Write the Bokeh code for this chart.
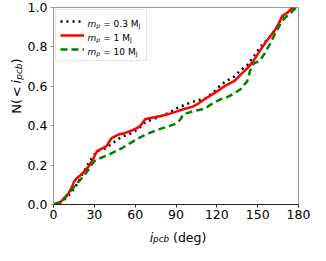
from bokeh.plotting import figure
from bokeh.layouts import column, row
from bokeh.models import Range1d, Label, Legend, LegendItem, PrintfTickFormatter, FixedTicker
from bokeh.core.properties import value
from bokeh.embed import file_html
from bokeh.resources import INLINE

# ---- data ----
deg_03 = [0, 4, 8, 11, 13.4, 17, 20.4, 25.1, 28.6, 32.1, 36.8, 40, 43.8, 47, 50.8, 57.9, 62.6,
          67.3, 72, 79, 85, 90.7, 96, 102.4, 107, 111.8, 118.8, 123.5, 128, 132.9, 137, 142.3,
          147, 151.6, 156, 160, 164, 168, 172, 175, 178]
cdf_03 = [0, 0.005, 0.025, 0.045, 0.063, 0.10, 0.143, 0.20, 0.24, 0.272, 0.28, 0.295, 0.312,
          0.33, 0.345, 0.364, 0.385, 0.417, 0.43, 0.449, 0.465, 0.489, 0.505, 0.522, 0.53,
          0.538, 0.578, 0.611, 0.63, 0.65, 0.68, 0.707, 0.75, 0.795, 0.83, 0.86, 0.90, 0.95,
          0.975, 0.99, 1.0]

deg_1 = [0, 4, 8, 11, 13.4, 15, 16.9, 20, 22.7, 26, 28.6, 30.5, 32.1, 36, 39.1, 41, 42.7, 48.5,
         52, 56.7, 62.6, 65, 67.3, 72, 79, 85, 90.7, 96, 102.4, 107, 111.8, 118.8, 125.9, 132.9,
         137, 142.3, 147, 151.6, 156.3, 160, 163.4, 166, 168, 172, 175, 177.5]
cdf_1 = [0, 0.008, 0.03, 0.055, 0.087, 0.115, 0.132, 0.15, 0.168, 0.195, 0.224, 0.25, 0.272,
         0.285, 0.296, 0.32, 0.337, 0.357, 0.362, 0.373, 0.393, 0.41, 0.433, 0.44, 0.449, 0.46,
         0.473, 0.485, 0.497, 0.515, 0.538, 0.568, 0.602, 0.626, 0.655, 0.691, 0.73, 0.78,
         0.827, 0.86, 0.892, 0.925, 0.957, 0.975, 0.995, 1.0]

deg_10 = [0, 4, 8.7, 12, 15.7, 19, 22.7, 26, 28.6, 30.5, 32.1, 36, 41.5, 46, 50.8, 56, 62.6,
          67.3, 72, 79, 85, 90.7, 93, 95.4, 102.4, 107, 111.8, 115, 118.8, 123, 128, 133, 137.6,
          142.3, 144.5, 147, 151.6, 155, 158.7, 163.4, 168, 172.8, 176, 178.6]
cdf_10 = [0, 0.01, 0.039, 0.065, 0.095, 0.12, 0.148, 0.18, 0.208, 0.222, 0.229, 0.24, 0.256,
          0.272, 0.288, 0.31, 0.337, 0.353, 0.367, 0.385, 0.398, 0.412, 0.43, 0.457, 0.473,
          0.48, 0.489, 0.505, 0.52, 0.535, 0.546, 0.565, 0.586, 0.626, 0.68, 0.715, 0.731,
          0.765, 0.81, 0.876, 0.932, 0.965, 0.985, 1.0]

x_ticks = [0, 30, 60, 90, 120, 150, 180]
y_ticks = [0.0, 0.2, 0.4, 0.6, 0.8, 1.0]
mass_labels = ["0.3", "1", "10"]

FONT = "DejaVu Sans"
TOTAL_W, TOTAL_H = 310, 245
YLAB_W = 24
MAIN_H = 224
B_LEFT, B_RIGHT, B_TOP, B_BOTTOM = 27, 12, 7, 20
FRAME_H = MAIN_H - B_TOP - B_BOTTOM

p = figure(width=TOTAL_W - YLAB_W, height=MAIN_H, output_backend="svg", toolbar_location=None,
           x_range=Range1d(0, 180), y_range=Range1d(0, 1),
           min_border_left=B_LEFT, min_border_right=B_RIGHT,
           min_border_top=B_TOP, min_border_bottom=B_BOTTOM)
p.grid.visible = False
p.outline_line_color = "#999999"

for ax in (p.xaxis[0], p.yaxis[0]):
    ax.major_label_text_font = FONT
    ax.major_label_text_font_size = "12.5px"
    ax.major_label_text_color = "black"
    ax.minor_tick_line_color = None
    ax.major_tick_in = 0
    ax.major_tick_out = 3
    ax.major_label_standoff = 3
p.xaxis.major_label_standoff = 2
p.xaxis.ticker = FixedTicker(ticks=x_ticks)
p.yaxis.ticker = FixedTicker(ticks=y_ticks)
p.yaxis.formatter = PrintfTickFormatter(format="%.1f")
p.xaxis.axis_line_color = "#222222"
p.xaxis.major_tick_line_color = "#222222"
p.yaxis.axis_line_color = "#999999"
p.yaxis.major_tick_line_color = "#999999"

r03 = p.line(deg_03, cdf_03, line_color="black", line_width=2.5, line_dash="2 4")
r1 = p.line(deg_1, cdf_1, line_color="red", line_width=2.5)
r10 = p.line(deg_10, cdf_10, line_color="green", line_width=2.5, line_dash="7 4")

legend = Legend(items=[LegendItem(label=value(" "), renderers=[r]) for r in (r03, r1, r10)],
                location="top_left", margin=2, padding=4, spacing=0,
                glyph_width=24, glyph_height=14, label_height=14, label_width=53,
                label_standoff=5, label_text_font_size="9px",
                border_line_color="#cccccc", border_line_width=1,
                background_fill_color=None)
p.add_layout(legend)

# ---- rich text helpers (italic / subscripts) ----
W = {'m': .974, 'p': .635, 'i': .278, 'c': .550, 'b': .635, ' ': .318, '=': .838, '0': .636,
     '.': .318, '1': .636, '3': .636, 'M': .863, 'J': .295, '(': .390, ')': .390, 'd': .635,
     'e': .615, 'g': .635, 'N': .748, '<': .838}


def width(text, size):
    return sum(W.get(ch, 0.6) for ch in text) * size


def add_runs(fig, x, y, runs, angle=0.0):
    pos = 0.0
    for text, size, italic, shift, gap in runs:
        pos += gap
        if angle == 0:
            lx, ly = x + pos, y - shift
        else:
            lx, ly = x + shift, y + pos
        fig.add_layout(Label(x=lx, y=ly, x_units="screen", y_units="screen", text=text,
                             text_font=FONT, text_font_size=f"{size}px",
                             text_font_style="italic" if italic else "normal",
                             text_color="black", angle=angle, level="overlay",
                             text_baseline="alphabetic", text_align="left"))
        pos += width(text, size)


def blank_fig(w, h):
    f = figure(width=w, height=h, output_backend="svg", toolbar_location=None,
               x_axis_location=None, y_axis_location=None, min_border=0,
               x_range=Range1d(0, 1), y_range=Range1d(0, 1))
    f.grid.visible = False
    f.outline_line_color = None
    return f


# legend texts (screen units relative to the main frame)
for k, m in enumerate(mass_labels):
    yb = FRAME_H - 16 - 14 * k
    add_runs(p, 34, yb, [("m", 9, True, 0, 0), ("p", 6.3, True, 1.5, 0),
                         ("= " + m + " M", 9, False, 0, 2.9), ("J", 6.3, False, 1.5, 0)])

# y axis label (rotated), in its own strip left of the plot
yfig = blank_fig(YLAB_W, MAIN_H)
yl_runs = [("N(", 13, False, 0, 0), ("<", 13, False, 0, 1.5), ("i", 13, True, 0, 3),
           ("pcb", 9, True, 2.5, 0), (")", 13, False, 0, 0)]
total = sum(width(t, s) + g for t, s, _, _, g in yl_runs)
frame_mid = B_BOTTOM + FRAME_H / 2
add_runs(yfig, 16, frame_mid - total / 2, yl_runs, angle=1.5707963267948966)

# x axis label, in its own strip below the plot
xfig = blank_fig(TOTAL_W, TOTAL_H - MAIN_H)
xl_runs = [("i", 12.5, True, 0, 0), ("pcb", 8.75, True, 1.5, 0), ("(deg)", 12.5, False, 0, 4)]
xtotal = sum(width(t, s) + g for t, s, _, _, g in xl_runs)
frame_cx = YLAB_W + B_LEFT + (TOTAL_W - YLAB_W - B_LEFT - B_RIGHT) / 2 + 3
add_runs(xfig, frame_cx - xtotal / 2, 8, xl_runs)

layout = column(row(yfig, p, spacing=0), xfig, spacing=0)
open("out.html", "w").write(file_html(layout, INLINE))
